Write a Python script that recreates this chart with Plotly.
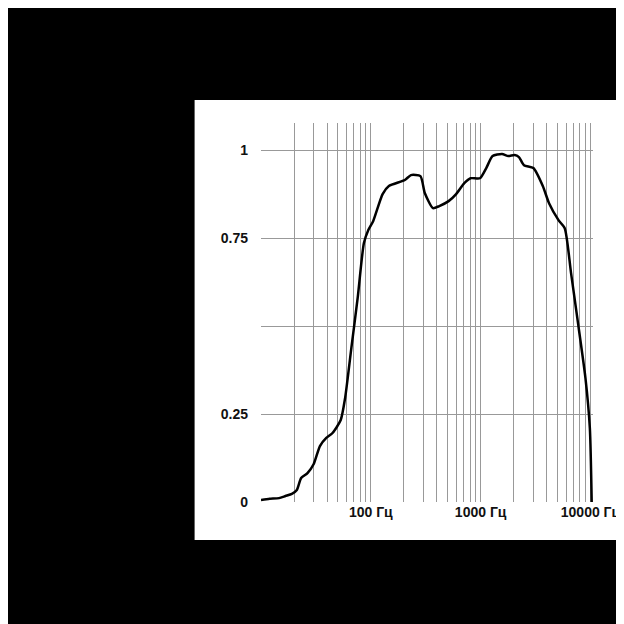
import plotly.graph_objects as go

freq = [10, 12.0, 14.6, 16.7, 19.1, 21.2, 23.2, 26.5, 30.2, 34.4, 39.3, 44.8, 53.2, 58.3,
        66.5, 75.9, 86.5, 94.9, 105, 128, 146, 204, 232, 283, 310, 368, 420, 511, 598,
        710, 810, 986, 1125, 1284, 1565, 1785, 2035, 2232, 2480, 3020, 3680, 4195, 5115,
        5830, 6650, 7585, 9000, 9870, 10260]
resp = [0.006, 0.009, 0.011, 0.017, 0.023, 0.034, 0.068, 0.082, 0.108, 0.159, 0.182, 0.196,
        0.233, 0.295, 0.438, 0.580, 0.736, 0.773, 0.798, 0.875, 0.898, 0.915, 0.929, 0.926,
        0.878, 0.835, 0.841, 0.855, 0.875, 0.906, 0.920, 0.920, 0.949, 0.983, 0.989, 0.983,
        0.986, 0.980, 0.957, 0.949, 0.898, 0.849, 0.801, 0.778, 0.651, 0.523, 0.352, 0.210, 0.0]

y_ticks = [0, 0.25, 0.5, 0.75, 1]
y_labels = ["0", "0.25", "", "0.75", "1"]
x_ticks = [100, 1000, 10000]
x_labels = ["<b>100 Гц</b>", "<b>1000 Гц</b>", "<b>10000 Гц</b>"]
minor = [m * 10 ** e for e in range(1, 5) for m in range(1, 10) if m * 10 ** e <= 10540]

fig = go.Figure(go.Scatter(x=freq, y=resp, mode="lines",
                           line=dict(color="black", width=2.5, shape="spline", smoothing=0.6)))

fig.update_layout(
    width=624, height=624,
    paper_bgcolor="black", plot_bgcolor="white",
    margin=dict(l=61, r=34, t=115, b=130),
    showlegend=False,
    font=dict(family="Liberation Sans, Arial", size=14, color="#111111"),
    shapes=[dict(type="rect", xref="paper", yref="paper", x0=-0.2, x1=1.2,
                 y0=-0.1003, y1=1.0607, fillcolor="white", line_width=0, layer="below")],
)
fig.update_xaxes(type="log", range=[1, 4.023], tickvals=x_ticks, ticktext=x_labels,
                 showgrid=True, gridcolor="#999999", gridwidth=1,
                 minor=dict(tickvals=minor, showgrid=True, gridcolor="#999999", gridwidth=1, ticks=""),
                 zeroline=False, ticks="", tickfont=dict(size=14, color="#111111"),
                 showline=False)
fig.update_yaxes(range=[0, 1.077], tickvals=y_ticks, ticktext=[f"<b>{t}</b>" for t in y_labels],
                 showgrid=True, gridcolor="#999999", gridwidth=1, zeroline=False,
                 ticks="", ticklabelstandoff=12, tickfont=dict(size=14, color="#111111"))

fig.write_html("out.html")
